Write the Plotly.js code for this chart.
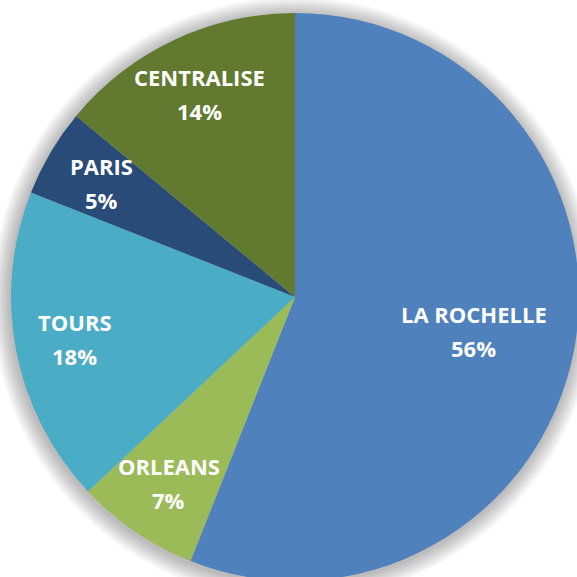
<!DOCTYPE html>
<html>
<head>
<meta charset="utf-8">
<script src="https://cdn.plot.ly/plotly-3.0.1.min.js"></script>
<style>
  html, body { margin: 0; padding: 0; background: #ffffff; overflow: hidden; }
  #wrap { width: 577px; height: 577px; overflow: hidden; position: relative; background: #ffffff; }
  #chart { width: 590px; height: 594px; }
</style>
</head>
<body>
<div id="wrap"><div id="chart"></div></div>
<script>
const labels = ["LA ROCHELLE", "ORLEANS", "TOURS", "PARIS", "CENTRALISE"];
const values = [56, 7, 18, 5, 14];
const colors = ["#4F81BD", "#9BBB59", "#4BACC6", "#284B78", "#627A2F"];

const W = 590, H = 594;
const CX = 295, CY = 297, R = 284;   // pie centre and radius in pixels

const trace = {
  type: "pie",
  labels: labels,
  values: values,
  sort: false,
  direction: "clockwise",
  rotation: 0,
  marker: { colors: colors, line: { width: 0 } },
  textinfo: "none",
  showlegend: false,
  hoverinfo: "none",
  domain: { x: [(CX - R) / W, (CX + R) / W], y: [1 - (CY + R) / H, 1 - (CY - R) / H] }
};

// soft shadow behind the pie: stacked translucent circles
const shapes = [];
for (let k = 1; k <= 12; k++) {
  const r = R + k * 1.5;
  const cy = CY + 2;
  shapes.push({
    type: "circle", xref: "paper", yref: "paper", layer: "below",
    x0: (CX - 1 - r) / W, x1: (CX - 1 + r) / W,
    y0: 1 - (cy + r) / H, y1: 1 - (cy - r) / H,
    fillcolor: "rgba(0,0,0,0.022)", line: { width: 0 }
  });
}

// label placement (Excel "best fit" style): big slice nearer centre
const total = values.reduce((a, b) => a + b, 0);
const font = { family: "Open Sans, sans-serif", size: 22, color: "#ffffff" };
const annotations = [];
let cum = 0;
values.forEach((v, i) => {
  const mid = (cum + v / 2) / total * 2 * Math.PI;
  cum += v;
  const frac = v / total > 0.5 ? 0.64 : 0.79;
  const px = CX + Math.sin(mid) * R * frac;
  const py = CY - Math.cos(mid) * R * frac;
  const pct = Math.round(v / total * 100) + "%";
  const base = { xref: "paper", yref: "paper", x: px / W, y: 1 - py / H,
                 showarrow: false, xanchor: "center", yanchor: "middle", font: font };
  annotations.push(Object.assign({}, base, { text: "<b>" + labels[i] + "</b>", yshift: 17 }));
  annotations.push(Object.assign({}, base, { text: "<b>" + pct + "</b>", yshift: -17 }));
});

Plotly.newPlot("chart", [trace], {
  width: W, height: H,
  margin: { l: 0, r: 0, t: 0, b: 0 },
  paper_bgcolor: "#ffffff",
  plot_bgcolor: "#ffffff",
  shapes: shapes,
  annotations: annotations
}, { displayModeBar: false, staticPlot: true });
</script>
</body>
</html>
